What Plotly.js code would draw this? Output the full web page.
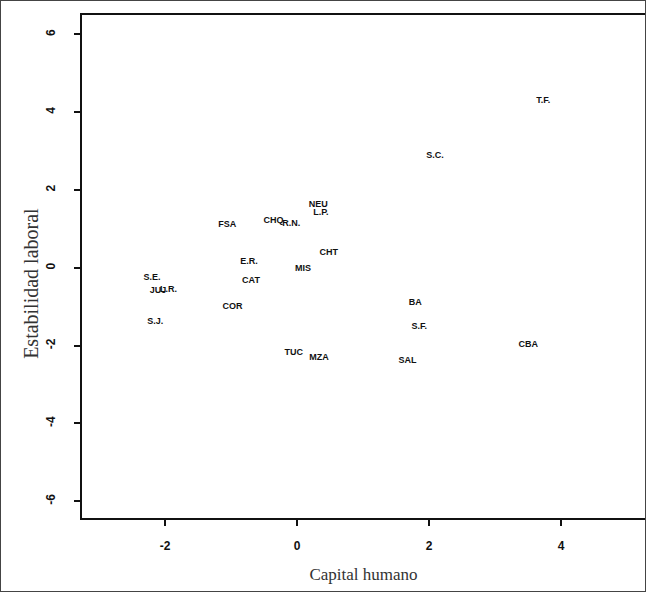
<!DOCTYPE html>
<html>
<head>
<meta charset="utf-8">
<script src="https://cdn.plot.ly/plotly-3.0.1.min.js"></script>
<style>
html,body{margin:0;padding:0;background:#fff;}
#chart{width:644px;height:590px;border:1px solid #444;}
</style>
</head>
<body>
<div id="chart"></div>
<script>
const provinces = ["T.F.","S.C.","NEU","L.P.","CHQ","R.N.","FSA","CHT","E.R.","MIS","S.E.","CAT","JUJ","L.R.","COR","S.J.","BA","S.F.","CBA","TUC","MZA","SAL"];
const capitalHumano = [3.73,2.09,0.32,0.36,-0.36,-0.09,-1.06,0.48,-0.73,0.09,-2.20,-0.70,-2.11,-1.95,-0.98,-2.15,1.79,1.85,3.50,-0.05,0.33,1.67];
const estabilidadLaboral = [4.29,2.88,1.62,1.41,1.21,1.13,1.11,0.39,0.15,-0.03,-0.26,-0.33,-0.59,-0.57,-1.00,-1.39,-0.90,-1.52,-1.98,-2.19,-2.31,-2.39];
const xTicks = [-2,0,2,4];
const yTicks = [-6,-4,-2,0,2,4,6];

const trace = {
  type: 'scatter',
  mode: 'text',
  x: capitalHumano,
  y: estabilidadLaboral,
  text: provinces,
  textposition: 'middle center',
  textfont: {family: 'Liberation Sans, Arial, sans-serif', size: 9, weight: 'bold', color: '#111'},
  hoverinfo: 'text',
  cliponaxis: false
};

const layout = {
  width: 644, height: 590,
  margin: {l: 81, r: 0, t: 14, b: 73},
  paper_bgcolor: '#fff', plot_bgcolor: '#fff',
  showlegend: false,
  xaxis: {
    range: [-3.26, 5.27],
    tickvals: xTicks, ticktext: xTicks.map(String),
    showgrid: false, zeroline: false,
    showline: true, linecolor: '#111', linewidth: 2, mirror: true,
    ticks: 'outside', ticklen: 6, tickwidth: 2, tickcolor: '#111',
    ticklabelstandoff: 10,
    tickfont: {family: 'Liberation Sans, Arial, sans-serif', size: 12, weight: 'bold', color: '#111'},
    title: {text: 'Capital humano', standoff: 16, font: {family: 'Liberation Serif, Times New Roman, serif', size: 17, color: '#333'}}
  },
  yaxis: {
    range: [-6.43, 6.5],
    tickvals: yTicks, ticktext: yTicks.map(String),
    showgrid: false, zeroline: false,
    showline: true, linecolor: '#111', linewidth: 2, mirror: true,
    ticks: 'outside', ticklen: 6, tickwidth: 2, tickcolor: '#111',
    tickangle: -90,
    ticklabelstandoff: 14,
    tickfont: {family: 'Liberation Sans, Arial, sans-serif', size: 12, weight: 'bold', color: '#111'}
  },
  annotations: [{
    text: 'Estabilidad laboral',
    xref: 'paper', yref: 'paper',
    x: -0.091, y: 0.467,
    xanchor: 'center', yanchor: 'middle',
    textangle: -90, showarrow: false,
    font: {family: 'Liberation Serif, Times New Roman, serif', size: 20, color: '#333'}
  }]
};

Plotly.newPlot('chart', [trace], layout, {displayModeBar: false, staticPlot: true});
</script>
</body>
</html>
